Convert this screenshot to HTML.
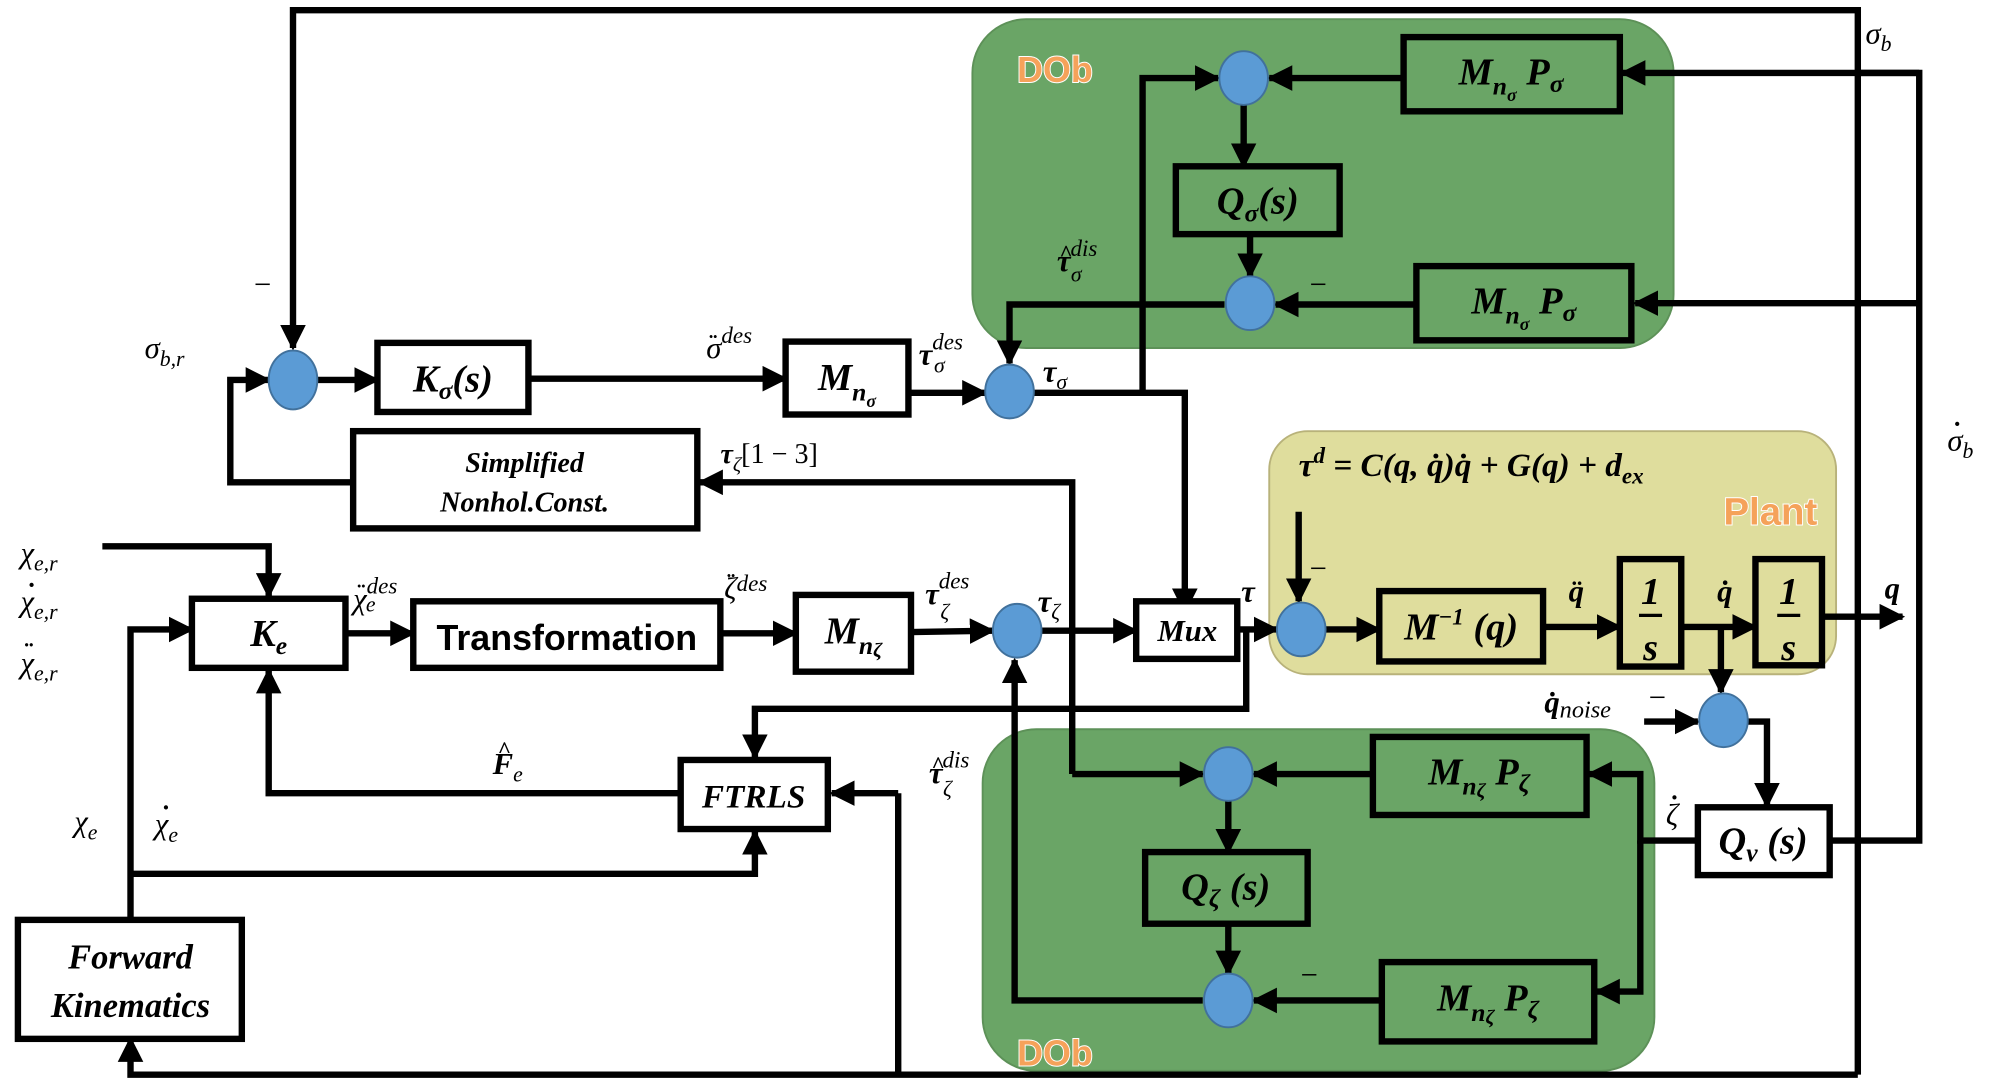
<!DOCTYPE html>
<html><head><meta charset="utf-8"><style>
html,body{margin:0;padding:0;background:#fff;}
svg{display:block;}
text{font-family:"Liberation Serif",serif;font-style:italic;fill:#000;}
.b{font-weight:bold;}
.s{font-family:"Liberation Sans",sans-serif;font-weight:bold;font-style:normal;}
.dob{font-family:"Liberation Sans",sans-serif;font-weight:bold;font-style:normal;fill:#f5a25a;stroke:#fff;stroke-width:1.5;paint-order:stroke;}
.d{font-style:normal;font-weight:bold;}
</style></head><body>
<svg width="1996" height="1083" viewBox="0 0 1560 846.5" preserveAspectRatio="none" xmlns="http://www.w3.org/2000/svg">
<defs>
<marker id="a" viewBox="0 0 10 10" refX="9" refY="5" markerWidth="4" markerHeight="4" markerUnits="strokeWidth" orient="auto"><path d="M0,0 L10,5 L0,10 z" fill="#000"/></marker>
</defs>
<rect x="760" y="15" width="548" height="257" rx="42" fill="#6aa566" stroke="#5d9158" stroke-width="1.5"/>
<rect x="768" y="570" width="525" height="267" rx="42" fill="#6aa566" stroke="#5d9158" stroke-width="1.5"/>
<rect x="992" y="337" width="443" height="190" rx="30" fill="#dfdd9d" stroke="#b8b27a" stroke-width="1.5"/>
<text x="795" y="64" class="dob" font-size="28">DOb</text>
<text x="795" y="833" class="dob" font-size="28">DOb</text>
<text x="1347" y="410" class="dob" font-size="30">Plant</text>

<g fill="none" stroke="#000" stroke-width="5">
<polyline points="1452,840 1452,8 229,8 229,272" marker-end="url(#a)"/>
<polyline points="1452,840 102,840 102,812" marker-end="url(#a)"/>
<line x1="702" y1="840" x2="702" y2="620"/>
<polyline points="702,620 650,620" marker-end="url(#a)"/>
<line x1="248" y1="297" x2="295" y2="297" marker-end="url(#a)"/>
<line x1="413" y1="296" x2="614" y2="296" marker-end="url(#a)"/>
<line x1="710" y1="307" x2="770" y2="307" marker-end="url(#a)"/>
<polyline points="276,377 180,377 180,297 210,297" marker-end="url(#a)"/>
<polyline points="838,605 838,377 547,377" marker-end="url(#a)"/>
<polyline points="838,605 940,605" marker-end="url(#a)"/>
<polyline points="808,307 926,307 926,478" marker-end="url(#a)"/>
<polyline points="893,307 893,61 952,61" marker-end="url(#a)"/>
<line x1="1097" y1="61" x2="992" y2="61" marker-end="url(#a)"/>
<line x1="972" y1="82" x2="972" y2="130" marker-end="url(#a)"/>
<line x1="977" y1="183" x2="977" y2="216" marker-end="url(#a)"/>
<line x1="1107" y1="238" x2="997" y2="238" marker-end="url(#a)"/>
<polyline points="957,238 789,238 789,284" marker-end="url(#a)"/>
<polyline points="1452,57 1500,57 1500,657 1430,657"/>
<line x1="1500" y1="57" x2="1268" y2="57" marker-end="url(#a)"/>
<line x1="1500" y1="237" x2="1278" y2="237" marker-end="url(#a)"/>
<polyline points="80,427 210,427 210,466" marker-end="url(#a)"/>
<polyline points="102,718 102,492 150,492" marker-end="url(#a)"/>
<line x1="270" y1="495" x2="323" y2="495" marker-end="url(#a)"/>
<line x1="563" y1="495" x2="622" y2="495" marker-end="url(#a)"/>
<line x1="712" y1="494" x2="776" y2="493" marker-end="url(#a)"/>
<line x1="814" y1="493" x2="888" y2="493" marker-end="url(#a)"/>
<line x1="967" y1="492" x2="998" y2="492" marker-end="url(#a)"/>
<polyline points="974,492 974,554 590,554 590,592" marker-end="url(#a)"/>
<polyline points="532,620 210,620 210,524" marker-end="url(#a)"/>
<polyline points="102,683 590,683 590,650" marker-end="url(#a)"/>
<line x1="1015" y1="400" x2="1015" y2="470" marker-end="url(#a)"/>
<line x1="1036" y1="492" x2="1078" y2="492" marker-end="url(#a)"/>
<line x1="1206" y1="490" x2="1266" y2="490" marker-end="url(#a)"/>
<line x1="1314" y1="490" x2="1372" y2="490" marker-end="url(#a)"/>
<line x1="1424" y1="482" x2="1487" y2="482" marker-end="url(#a)"/>
<line x1="1345" y1="490" x2="1345" y2="541" marker-end="url(#a)"/>
<line x1="1285" y1="564" x2="1327" y2="564" marker-end="url(#a)"/>
<polyline points="1366,564 1381,564 1381,630" marker-end="url(#a)"/>
<polyline points="1327,657 1282,657 1282,605 1242,605" marker-end="url(#a)"/>
<polyline points="1282,657 1282,775 1248,775" marker-end="url(#a)"/>
<line x1="1073" y1="605" x2="980" y2="605" marker-end="url(#a)"/>
<line x1="960" y1="626" x2="960" y2="666" marker-end="url(#a)"/>
<line x1="960" y1="722" x2="960" y2="761" marker-end="url(#a)"/>
<line x1="1080" y1="782" x2="980" y2="782" marker-end="url(#a)"/>
<polyline points="940,782 793,782 793,516" marker-end="url(#a)"/>
</g>

<g stroke="#000" stroke-width="5">
<rect x="295" y="268" width="118" height="54" fill="#fff"/>
<rect x="614" y="267" width="96" height="57" fill="#fff"/>
<rect x="276" y="337" width="269" height="76" fill="#fff"/>
<rect x="150" y="468" width="120" height="54" fill="#fff"/>
<rect x="323" y="470" width="240" height="52" fill="#fff"/>
<rect x="622" y="465" width="90" height="60" fill="#fff"/>
<rect x="888" y="470" width="79" height="45" fill="#fff"/>
<rect x="532" y="594" width="115" height="54" fill="#fff"/>
<rect x="14" y="719" width="175" height="93" fill="#fff"/>
<rect x="1097" y="29" width="169" height="58" fill="#6aa566"/>
<rect x="919" y="130" width="128" height="53" fill="#6aa566"/>
<rect x="1107" y="208" width="168" height="58" fill="#6aa566"/>
<rect x="1078" y="462" width="128" height="55" fill="#dfdd9d"/>
<rect x="1266" y="437" width="48" height="84" fill="#dfdd9d"/>
<rect x="1372" y="437" width="52" height="83" fill="#dfdd9d"/>
<rect x="1327" y="631" width="103" height="53" fill="#fff"/>
<rect x="1073" y="576" width="167" height="61" fill="#6aa566"/>
<rect x="895" y="666" width="127" height="56" fill="#6aa566"/>
<rect x="1080" y="752" width="166" height="62" fill="#6aa566"/>
</g>

<g fill="#5b9bd5" stroke="#41719c" stroke-width="1.5">
<ellipse cx="229" cy="297" rx="19" ry="23"/>
<ellipse cx="789" cy="306" rx="19" ry="21"/>
<ellipse cx="795" cy="493" rx="19" ry="21"/>
<ellipse cx="1017" cy="492" rx="19" ry="21"/>
<ellipse cx="972" cy="61" rx="19" ry="21"/>
<ellipse cx="977" cy="237" rx="19" ry="21"/>
<ellipse cx="1347" cy="563" rx="19" ry="21"/>
<ellipse cx="960" cy="605" rx="19" ry="21"/>
<ellipse cx="960" cy="782" rx="19" ry="21"/>
</g>

<g class="b" font-size="30" text-anchor="middle">
<text x="354" y="306" class="b">K<tspan font-size="20" dy="6">σ</tspan><tspan dy="-6">(s)</tspan></text>
<text x="662" y="305" class="b">M<tspan font-size="20" dy="8">n</tspan><tspan font-size="14" dy="5">σ</tspan></text>
<text x="410" y="369" font-size="22" class="b">Simplified</text>
<text x="410" y="400" font-size="22" class="b">Nonhol.Const.</text>
<text x="210" y="505" class="b">K<tspan font-size="20" dy="6">e</tspan></text>
<text x="443" y="508" class="s" font-size="28">Transformation</text>
<text x="667" y="503" class="b">M<tspan font-size="20" dy="8">n</tspan><tspan font-size="16" dy="2">ζ</tspan></text>
<text x="928" y="501" font-size="24" class="b">Mux</text>
<text x="589" y="631" font-size="26" class="b">FTRLS</text>
<text x="102" y="757" font-size="27" class="b">Forward</text>
<text x="102" y="795" font-size="27" class="b">Kinematics</text>
<text x="1181" y="66" class="b">M<tspan font-size="20" dy="8">n</tspan><tspan font-size="14" dy="5">σ</tspan><tspan dy="-13"> P</tspan><tspan font-size="20" dy="6">σ</tspan></text>
<text x="983" y="167" class="b">Q<tspan font-size="20" dy="6">σ</tspan><tspan dy="-6">(s)</tspan></text>
<text x="1191" y="245" class="b">M<tspan font-size="20" dy="8">n</tspan><tspan font-size="14" dy="5">σ</tspan><tspan dy="-13"> P</tspan><tspan font-size="20" dy="6">σ</tspan></text>
<text x="1142" y="500" class="b">M<tspan font-size="18" dy="-12">−1</tspan><tspan dy="12"> (q)</tspan></text>
<text x="1290" y="472" class="b">1</text>
<text x="1290" y="516" class="b">s</text>
<text x="1398" y="472" class="b">1</text>
<text x="1398" y="516" class="b">s</text>
<text x="1378" y="667" class="b">Q<tspan font-size="20" dy="6">v</tspan><tspan dy="-6"> (s)</tspan></text>
<text x="1156" y="613" class="b">M<tspan font-size="20" dy="8">n</tspan><tspan font-size="16" dy="2">ζ</tspan><tspan dy="-10"> P</tspan><tspan font-size="20" dy="6">ζ</tspan></text>
<text x="958" y="703" class="b">Q<tspan font-size="20" dy="6">ζ</tspan><tspan dy="-6"> (s)</tspan></text>
<text x="1163" y="790" class="b">M<tspan font-size="20" dy="8">n</tspan><tspan font-size="16" dy="2">ζ</tspan><tspan dy="-10"> P</tspan><tspan font-size="20" dy="6">ζ</tspan></text>
</g>
<g stroke="#000" stroke-width="2.5"><line x1="1281" y1="481" x2="1299" y2="481"/><line x1="1389" y1="481" x2="1407" y2="481"/></g>

<g font-size="24">
<text x="113" y="280">σ<tspan font-size="17" dy="6">b,r</tspan></text>
<text x="197" y="230">−</text>
<text x="552" y="280">σ<tspan font-size="18" dy="-12">des</tspan></text>
<text x="554" y="275" class="d" font-size="20">¨</text>
<text x="718" y="285" class="b">τ<tspan font-size="18" dy="-12" font-weight="normal">des</tspan></text>
<text x="730" y="291" font-size="17">σ</text>
<text x="815" y="298" class="b">τ<tspan font-size="17" dy="6" font-weight="normal">σ</tspan></text>
<text x="826" y="212" class="b">τ<tspan font-size="18" dy="-12" font-weight="normal">dis</tspan></text>
<text x="828" y="204" class="d" font-size="18">^</text>
<text x="837" y="220" font-size="17">σ</text>
<text x="1022" y="230">−</text>
<text x="563" y="362" font-size="22" class="b">τ<tspan font-size="16" dy="6" font-weight="normal">ζ</tspan><tspan dy="-6" font-style="normal" font-weight="normal">[1 − 3]</tspan></text>
<text x="16" y="440">χ<tspan font-size="17" dy="6">e,r</tspan></text>
<text x="16" y="478">χ<tspan font-size="17" dy="6">e,r</tspan></text>
<text x="21" y="471" class="d" font-size="22">˙</text>
<text x="16" y="526">χ<tspan font-size="17" dy="6">e,r</tspan></text>
<text x="19" y="518" class="d" font-size="22">¨</text>
<text x="276" y="476">χ<tspan font-size="18" dy="-12">des</tspan></text>
<text x="279" y="470" class="d" font-size="20">¨</text>
<text x="286" y="478" font-size="17">e</text>
<text x="566" y="468">ζ<tspan font-size="18" dy="-6">des</tspan></text>
<text x="568" y="462" class="d" font-size="20">¨</text>
<text x="723" y="472" class="b">τ<tspan font-size="18" dy="-12" font-weight="normal">des</tspan></text>
<text x="735" y="484" font-size="17">ζ</text>
<text x="811" y="478" class="b">τ<tspan font-size="17" dy="6" font-weight="normal">ζ</tspan></text>
<text x="970" y="470" class="b">τ</text>
<text x="385" y="605" class="b">F<tspan font-size="17" dy="6" font-weight="normal">e</tspan></text>
<text x="389" y="592" class="d" font-size="18">^</text>
<text x="58" y="650">χ<tspan font-size="17" dy="6">e</tspan></text>
<text x="121" y="652">χ<tspan font-size="17" dy="6">e</tspan></text>
<text x="126" y="645" class="d" font-size="22">˙</text>
<text x="726" y="612" class="b">τ<tspan font-size="18" dy="-12" font-weight="normal">dis</tspan></text>
<text x="728" y="604" class="d" font-size="18">^</text>
<text x="737" y="622" font-size="17">ζ</text>
<text x="1015" y="372" class="b" font-size="26">τ<tspan font-size="18" dy="-10">d</tspan><tspan dy="10"> = C(q, q̇)q̇ + G(q)  + d</tspan><tspan font-size="18" dy="6">ex</tspan></text>
<text x="1022" y="452">−</text>
<text x="1226" y="470" class="b">q̈</text>
<text x="1342" y="470" class="b">q̇</text>
<text x="1473" y="468" class="b">q</text>
<text x="1207" y="557" class="b">q̇<tspan font-size="19" dy="4" font-weight="normal">noise</tspan></text>
<text x="1287" y="553">−</text>
<text x="1302" y="645">ζ</text>
<text x="1305" y="637" class="d" font-size="22">˙</text>
<text x="1015" y="770">−</text>
<text x="1458" y="34">σ<tspan font-size="17" dy="6">b</tspan></text>
<text x="1522" y="352">σ<tspan font-size="17" dy="6">b</tspan></text>
<text x="1526" y="345" class="d" font-size="22">˙</text>
</g>
</svg>
</body></html>
